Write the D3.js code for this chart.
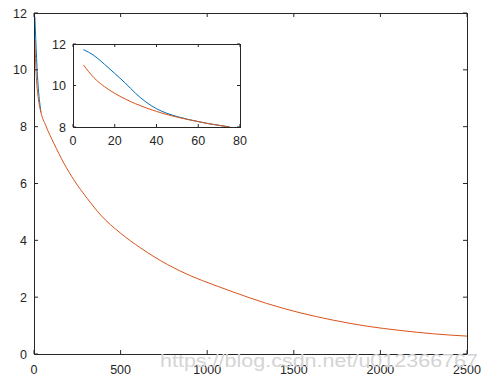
<!DOCTYPE html>
<html>
<head>
<meta charset="utf-8">
<script src="https://cdn.jsdelivr.net/npm/d3@7"></script>
<style>
body{margin:0;background:#fff;}
svg{display:block;}
text{font-family:"Liberation Sans",Arial,sans-serif;}
</style>
</head>
<body>
<script>
// Main chart data
const mainX      = [5, 10, 15, 20, 27, 40, 67, 115, 173, 231, 308, 385, 500, 616, 770, 905, 1039, 1151, 1343, 1536, 1728, 1921, 2113, 2306, 2500];
const mainOrange = [11.05, 10.2, 9.6, 9.25, 8.9, 8.5, 8.05, 7.41, 6.71, 6.12, 5.47, 4.89, 4.25, 3.73, 3.15, 2.75, 2.43, 2.18, 1.78, 1.45, 1.19, 0.98, 0.83, 0.71, 0.63];
const mainBlueX  = [5, 10, 15, 20, 27, 35, 40];
const mainBlue   = [11.87, 11.1, 10.4, 9.8, 9.2, 8.75, 8.5];
const mainXTicks = [0, 500, 1000, 1500, 2000, 2500];
const mainYTicks = [0, 2, 4, 6, 8, 10, 12];

// Inset data
const insetX      = [5, 10, 15, 20, 25, 30, 35, 40, 45, 50, 55, 60, 65, 70, 75];
const insetBlue   = [11.73, 11.45, 11.03, 10.58, 10.12, 9.62, 9.2, 8.88, 8.66, 8.5, 8.37, 8.26, 8.16, 8.08, 8.0];
const insetOrange = [10.99, 10.38, 9.95, 9.62, 9.35, 9.12, 8.92, 8.75, 8.6, 8.47, 8.36, 8.26, 8.16, 8.08, 8.0];
const insetXTicks = [0, 20, 40, 60, 80];
const insetYTicks = [8, 10, 12];

const W = 491, H = 381;
const axisColor = "#262626";
const blue = "#0072BD", orange = "#D95319";

const svg = d3.select("body").append("svg").attr("width", W).attr("height", H);
svg.append("rect").attr("width", W).attr("height", H).attr("fill", "#fff");

function drawAxes(g, x, y, xTicks, yTicks, fs, xOff, yOff, tickLen) {
  const [x0, x1] = x.range();
  const [y0, y1] = y.range(); // y0 bottom, y1 top
  xTicks.forEach(t => {
    const px = x(t);
    g.append("line").attr("x1", px).attr("x2", px).attr("y1", y0).attr("y2", y0 - tickLen).attr("stroke", axisColor);
    g.append("line").attr("x1", px).attr("x2", px).attr("y1", y1).attr("y2", y1 + tickLen).attr("stroke", axisColor);
    g.append("text").attr("x", px).attr("y", y0 + xOff).attr("text-anchor", "middle")
      .attr("font-size", fs).attr("fill", axisColor).text(t);
  });
  yTicks.forEach(t => {
    const py = y(t);
    g.append("line").attr("x1", x0).attr("x2", x0 + tickLen).attr("y1", py).attr("y2", py).attr("stroke", axisColor);
    g.append("line").attr("x1", x1).attr("x2", x1 - tickLen).attr("y1", py).attr("y2", py).attr("stroke", axisColor);
    g.append("text").attr("x", x0 - yOff).attr("y", py).attr("dy", "0.36em").attr("text-anchor", "end")
      .attr("font-size", fs).attr("fill", axisColor).text(t);
  });
  g.append("rect").attr("x", x0 + 0.5).attr("y", y1 + 0.5).attr("width", x1 - x0).attr("height", y0 - y1)
    .attr("fill", "none").attr("stroke", axisColor).attr("stroke-width", 1);
}

// Main axes
const mx = d3.scaleLinear().domain([0, 2500]).range([34, 467]);
const my = d3.scaleLinear().domain([0, 12]).range([354, 13]);
const gMain = svg.append("g");

const lineMainBlue = d3.line().x((d, i) => mx(mainBlueX[i])).y(d => my(d)).curve(d3.curveMonotoneX);
const lineMainOrange = d3.line().x((d, i) => mx(mainX[i])).y(d => my(d)).curve(d3.curveMonotoneX);

// watermark
svg.append("text").attr("x", 160).attr("y", 367).attr("font-family", "'Liberation Serif','DejaVu Serif',serif")
  .attr("font-size", 18).attr("fill", "#d4d4d4").attr("textLength", 318).attr("lengthAdjust", "spacingAndGlyphs")
  .text("https://blog.csdn.net/u012366767");

gMain.append("path").datum(mainBlue).attr("d", lineMainBlue).attr("fill", "none").attr("stroke", blue).attr("stroke-width", 1);
gMain.append("path").datum(mainOrange).attr("d", lineMainOrange).attr("fill", "none").attr("stroke", orange).attr("stroke-width", 1);
drawAxes(gMain, mx, my, mainXTicks, mainYTicks, 12.5, 20, 7, 4);

// Inset axes
const ix = d3.scaleLinear().domain([0, 80]).range([73, 240]);
const iy = d3.scaleLinear().domain([8, 12]).range([127, 44]);
const gIn = svg.append("g");
gIn.append("rect").attr("x", 73).attr("y", 44).attr("width", 167).attr("height", 83).attr("fill", "#fff");
const lineInBlue = d3.line().x((d, i) => ix(insetX[i])).y(d => iy(d)).curve(d3.curveMonotoneX);
const lineInOrange = d3.line().x((d, i) => ix(insetX[i])).y(d => iy(d)).curve(d3.curveMonotoneX);
gIn.append("path").datum(insetBlue).attr("d", lineInBlue).attr("fill", "none").attr("stroke", blue).attr("stroke-width", 1);
gIn.append("path").datum(insetOrange).attr("d", lineInOrange).attr("fill", "none").attr("stroke", orange).attr("stroke-width", 1);
drawAxes(gIn, ix, iy, insetXTicks, insetYTicks, 12.5, 18, 7, 3);
</script>
</body>
</html>
